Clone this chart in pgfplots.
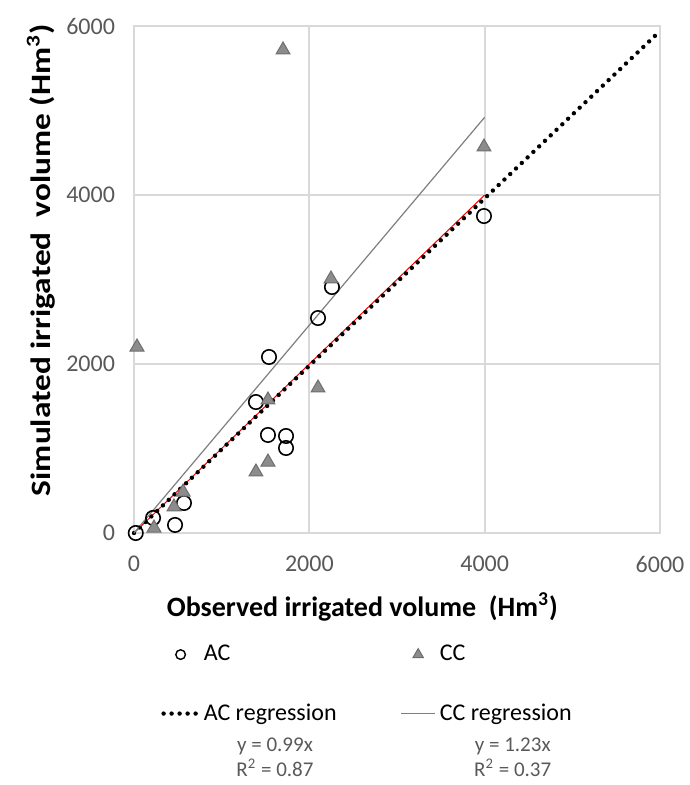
\documentclass[border=0pt]{standalone}
\usepackage{fontspec}
\setmainfont{Carlito}
\usepackage{pgfplots}
\pgfplotsset{compat=1.18}
\usetikzlibrary{calc}
\definecolor{gridc}{HTML}{D9D9D9}
\definecolor{tickc}{HTML}{595959}
\definecolor{trifill}{HTML}{8C8C8C}
\definecolor{triedge}{HTML}{6E6E6E}
\definecolor{ccline}{HTML}{7F7F7F}
\begin{document}
\begin{tikzpicture}
\begin{axis}[
  name=ax,
  scale only axis,
  width=263bp, height=253.5bp,
  xmin=0, xmax=6000, ymin=0, ymax=6000,
  xtick={0,2000,4000,6000}, ytick={0,2000,4000,6000},
  grid=major,
  major grid style={gridc, line width=0.9bp},
  axis line style={gridc, line width=0.9bp},
  major tick length=0pt,
  /pgf/number format/assume math mode=true,
  /pgf/number format/1000 sep={},
  tick label style={font=\fontsize{12bp}{14bp}\selectfont, text=tickc},
  xticklabel style={yshift=-8bp},
  yticklabel style={xshift=-6bp},
  xlabel={Observed irrigated volume\ \ (Hm\textsuperscript{3})},
  ylabel={Simulated irrigated\ \ volume (Hm\textsuperscript{3})},
  xlabel style={font=\bfseries\fontsize{14bp}{16bp}\selectfont, at={(axis description cs:0.434,-0.146)}, anchor=center},
  ylabel style={font=\bfseries\fontsize{14bp}{16bp}\selectfont, at={(axis description cs:-0.177,0.538)}, anchor=center, xscale=1.19},
  clip=false,
  legend columns=2,
  legend style={draw=none, fill=none, font=\fontsize{12bp}{14bp}\selectfont,
    at={(axis description cs:0.04,-0.205)}, anchor=north west,
    /tikz/every even column/.append style={column sep=30bp},
    row sep=16bp},
  legend cell align=left,
]
\addplot[only marks, mark=o, mark size=3.6bp, mark options={line width=0.8bp, black},
  legend image code/.code={\draw[mark size=2.4bp, mark options={line width=0.7bp, black}] plot[mark=o] coordinates {(0.3cm,0cm)};}]
 coordinates {(20,0) (217,178) (468,95) (570,355) (1391,1550) (1540,2083) (1528,1160)
 (1734,1148) (1734,1006) (2099,2544) (2258,2911) (3992,3751)};
\addlegendentry{AC}
\addplot[only marks, mark=triangle*, mark size=4bp, mark options={fill=trifill, draw=triedge, line width=0.5bp},
  legend image code/.code={\draw[mark size=3bp, mark options={fill=trifill, draw=triedge, line width=0.5bp}] plot[mark=triangle*] coordinates {(0.3cm,0cm)};}]
 coordinates {(1700,5716) (34,2201) (228,59) (456,308) (560,485) (1528,1574) (2099,1716)
 (1391,722) (1528,840) (2247,3006) (3992,4568)};
\addlegendentry{CC}
\addplot[red, line width=0.5bp, forget plot] coordinates {(0,0) (4000,4000)};
\addplot[black, line width=2.2bp, dash pattern=on 0pt off 4bp, line cap=round]
 coordinates {(0,0) (6000,5940)};
\addlegendentry{AC regression}
\addplot[ccline, line width=0.6bp] coordinates {(0,0) (4000,4920)};
\addlegendentry{CC regression}
\node[font=\fontsize{10.5bp}{12.5bp}\selectfont, text=tickc, align=center] at (axis description cs:0.268,-0.442) {y = 0.99x\\R\textsuperscript{2} = 0.87};
\node[font=\fontsize{10.5bp}{12.5bp}\selectfont, text=tickc, align=center] at (axis description cs:0.72,-0.442) {y = 1.23x\\R\textsuperscript{2} = 0.37};
\end{axis}
\pgfresetboundingbox
\path[use as bounding box] ($(ax.south west)+(-67bp,-126bp)$) rectangle ($(ax.north east)+(14.5bp,13bp)$);
\end{tikzpicture}
\end{document}
